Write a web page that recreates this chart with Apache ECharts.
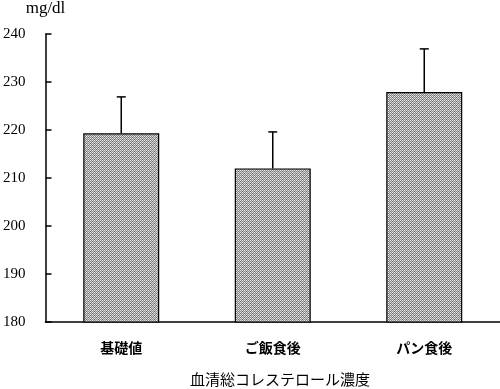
<!DOCTYPE html>
<html><head><meta charset="utf-8">
<script src="https://cdn.jsdelivr.net/npm/echarts@6/dist/echarts.min.js"></script>
<style>html,body{margin:0;padding:0;background:#fff}#c{width:500px;height:389px}</style>
</head><body><div id="c"></div>
<script>
const categories = ['基礎値', 'ご飯食後', 'パン食後'];
const means = [219.3, 212.0, 227.9];
const errUpper = [226.9, 219.6, 236.9];
const yTicks = { min: 180, max: 240, interval: 10 };
const yUnit = 'mg/dl';
const xTitle = '血清総コレステロール濃度';

// hatch pattern
const pc = document.createElement('canvas');
pc.width = 4; pc.height = 4;
const ctx = pc.getContext('2d');
const G = '#8a8a8a', W = '#e4e4e4', D = '#6a6a6a', L = '#c8c8c8';
const tile = [[W,G,W,G],[D,L,G,L],[W,G,W,G],[G,L,D,L]];
for (let r=0;r<4;r++) for (let c=0;c<4;c++){ctx.fillStyle=tile[r][c];ctx.fillRect(c,r,1,1);}

const chart = echarts.init(document.getElementById('c'), null, {renderer:'canvas'});
chart.setOption({
  animation: false,
  grid: { left: 42, right: 0, top: 34, bottom: 67 },
  xAxis: {
    type: 'category', data: categories,
    axisLine: { lineStyle: { color: '#000', width: 1.5 } },
    axisTick: { show: false },
    axisLabel: { color: '#000', fontSize: 14, fontWeight: 'bold', margin: 19, fontFamily: 'Noto Sans CJK JP' }
  },
  yAxis: {
    type: 'value', min: yTicks.min, max: yTicks.max, interval: yTicks.interval,
    name: yUnit, nameLocation: 'end', nameGap: 17,
    nameTextStyle: { color: '#000', fontSize: 17, fontFamily: 'Liberation Serif', align: 'center' },
    axisLine: { show: true, lineStyle: { color: '#000', width: 1.5 } },
    axisTick: { show: true, inside: true, length: 6, lineStyle: { color: '#000', width: 1.5 } },
    axisLabel: { color: '#000', fontSize: 15, fontFamily: 'Liberation Serif', margin: 20 },
    splitLine: { show: false }
  },
  graphic: [{
    type: 'text', left: 190, top: 372,
    style: { text: xTitle, fill: '#000', fontSize: 15, fontFamily: 'Noto Sans CJK JP' }
  }],
  series: [{
    type: 'bar', data: means, barWidth: 76,
    itemStyle: { color: { image: pc, repeat: 'repeat' }, borderColor: '#000', borderWidth: 1.2 },
    z: 2
  }, {
    type: 'custom', z: 3,
    data: categories.map((c, i) => [i, means[i], errUpper[i]]),
    renderItem: function (params, api) {
      const x = api.value(0);
      const p0 = api.coord([x, api.value(1)]);
      const p1 = api.coord([x, api.value(2)]);
      const hw = 4.5;
      return { type: 'group', children: [
        { type: 'line', shape: { x1: p0[0], y1: p0[1], x2: p1[0], y2: p1[1] }, style: { stroke: '#000', lineWidth: 1.5 } },
        { type: 'line', shape: { x1: p1[0]-hw, y1: p1[1], x2: p1[0]+hw, y2: p1[1] }, style: { stroke: '#000', lineWidth: 1.5 } }
      ]};
    }
  }]
});
</script></body></html>
